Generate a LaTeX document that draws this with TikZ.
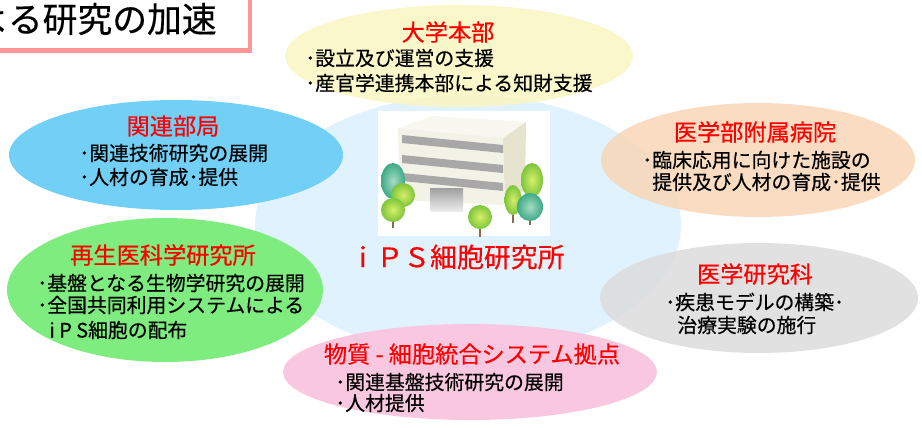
\documentclass[tikz,border=0pt]{standalone}
\usepackage{fontspec}
\setmainfont{Noto Sans CJK JP}[FakeBold=0.4]
\usetikzlibrary{shapes.geometric}
\definecolor{HubBlue}{HTML}{E0F2FD}
\definecolor{HQYellow}{HTML}{FAF6C2}
\definecolor{DeptCyan}{HTML}{72CFF5}
\definecolor{HospPeach}{HTML}{F9D6B8}
\definecolor{RegenGreen}{HTML}{7EEC7E}
\definecolor{MedGray}{HTML}{DCDCDC}
\definecolor{ICePink}{HTML}{F9C8E0}
\definecolor{BannerPink}{HTML}{FF9696}
\definecolor{TitleRed}{HTML}{FF0000}
\definecolor{WallFront}{HTML}{F3F2E6}
\definecolor{WallSide}{HTML}{E6E4CF}
\definecolor{RoofTop}{HTML}{F8F8F0}
\definecolor{BandGray}{HTML}{A8A8A8}
\definecolor{LeafGreen}{HTML}{7CC63A}
\definecolor{LeafLight}{HTML}{D8EE6A}
\definecolor{LeafTeal}{HTML}{3DAA86}
\definecolor{LeafTealLight}{HTML}{A6DCC4}
\definecolor{TrunkBrown}{HTML}{8E6A48}
\tikzset{
    % Ellipse styles
    bubble/.style={
        ellipse,
        draw=none,
        inner sep=0pt
    },
    % Text styles
    headtext/.style={
        inner sep=0pt,
        text=TitleRed,
        font=\fontsize{13.2pt}{15pt}\selectfont
    },
    bodytext/.style={
        inner sep=0pt,
        anchor=west,
        text=black,
        font=\fontsize{11.3pt}{13pt}\selectfont
    },
    % Picture styles
    leaf/.style={
        inner color=LeafLight,
        outer color=LeafGreen
    },
    tealleaf/.style={
        inner color=LeafTealLight,
        outer color=LeafTeal
    },
    trunk/.style={
        draw=TrunkBrown,
        line width=1.6pt
    }
}

\begin{document}
\begin{tikzpicture}[x=0.02cm, y=-0.02cm]
    \clip (0,0) rectangle (922,427);
    \fill[white] (0,0) rectangle (922,427);

    % Centre and surrounding partners
    \node[bubble, fill=HubBlue, minimum width=8.52cm, minimum height=5.2cm] (hub) at (468,225) {};
    \node[bubble, fill=HQYellow, fill opacity=0.85, minimum width=6.96cm, minimum height=2.04cm] (hq) at (459,56) {};
    \node[bubble, fill=DeptCyan, minimum width=6.68cm, minimum height=2.2cm] (dept) at (176,155) {};
    \node[bubble, fill=HospPeach, fill opacity=0.85, minimum width=6.28cm, minimum height=2.28cm] (hosp) at (758,160) {};
    \node[bubble, fill=RegenGreen, minimum width=6.32cm, minimum height=2.88cm] (regen) at (165,290) {};
    \node[bubble, fill=MedGray, fill opacity=0.85, minimum width=6.36cm, minimum height=2.2cm] (med) at (759,298) {};
    \node[bubble, fill=ICePink, minimum width=7.48cm, minimum height=1.92cm] (ice) at (470,372) {};

    % Banner
    \draw[draw=BannerPink, line width=2.3pt, fill=white] (-20,-20) rectangle (250,50.5);
    \node[inner sep=0pt, anchor=east, font=\fontsize{19.8pt}{22pt}\selectfont] (banner) at (217,19) {よる研究の加速};

    % Building picture
    \node[fill=white, minimum width=3.44cm, minimum height=2.52cm, inner sep=0pt] (photo) at (464,173.5) {};
    \fill[RoofTop] (398,128) -- (433,116) -- (526,122) -- (503,138) -- cycle;
    \fill[WallFront] (398,128) -- (503,138) -- (505,205) -- (400,200) -- cycle;
    \fill[WallSide] (503,138) -- (526,122) -- (525,190) -- (505,205) -- cycle;
    \foreach \y in {135,155,173} {
        \fill[BandGray] (402,\y) -- (503,\y+10) -- (503,\y+18) -- (402,\y+8) -- cycle;
    }
    \shade[top color=gray!75, bottom color=gray!15] (430,188) rectangle (463,211);
    % trees
    \draw[trunk] (393,212) -- (393,228);
    \draw[trunk] (403,198) -- (403,214);
    \draw[trunk] (480,220) -- (480,237);
    \draw[trunk] (513,203) -- (513,223);
    \draw[trunk] (530,210) -- (530,225);
    \shade[tealleaf] (393,181) ellipse (12 and 18);
    \shade[leaf] (403,195) circle (12);
    \shade[leaf] (393,210) circle (12);
    \shade[leaf] (480,217) circle (12);
    \shade[leaf] (532,180) ellipse (11 and 17);
    \shade[leaf] (513,200) ellipse (8.5 and 15);
    \shade[tealleaf] (530,207) ellipse (13 and 14);
    \node[inner sep=0pt, text=TitleRed, font=\fontsize{15.3pt}{17pt}\selectfont] (hubname) at (457,257) {ｉＰＳ細胞研究所};

    % University headquarters
    \node[headtext] (hqname) at (448,32) {大学本部};
    \node[bodytext] (hq1) at (305,58) {･設立及び運営の支援};
    \node[bodytext] (hq2) at (305,83) {･産官学連携本部による知財支援};

    % Related departments
    \node[headtext] (deptname) at (173,126) {関連部局};
    \node[bodytext] (dept1) at (79,153) {･関連技術研究の展開};
    \node[bodytext] (dept2) at (79,177) {･人材の育成･提供};

    % University hospital
    \node[headtext] (hospname) at (755,132) {医学部附属病院};
    \node[bodytext] (hosp1) at (642,160) {･臨床応用に向けた施設の};
    \node[bodytext] (hosp2) at (652,182) {提供及び人材の育成･提供};

    % Institute for frontier medical sciences
    \node[headtext] (regenname) at (163,255) {再生医科学研究所};
    \node[bodytext] (regen1) at (37,283) {･基盤となる生物学研究の展開};
    \node[bodytext] (regen2) at (37,305) {･全国共同利用システムによる};
    \node[bodytext] (regen3) at (49,330) {i P S細胞の配布};

    % Graduate school of medicine
    \node[headtext] (medname) at (755,274) {医学研究科};
    \node[bodytext] (med1) at (665,302) {･疾患モデルの構築･};
    \node[bodytext] (med2) at (677,325) {治療実験の施行};

    % Integrated cell-material sciences
    \node[headtext] (icename) at (472,354) {物質 - 細胞統合システム拠点};
    \node[bodytext] (ice1) at (335,382) {･関連基盤技術研究の展開};
    \node[bodytext] (ice2) at (335,403) {･人材提供};
\end{tikzpicture}
\end{document}
